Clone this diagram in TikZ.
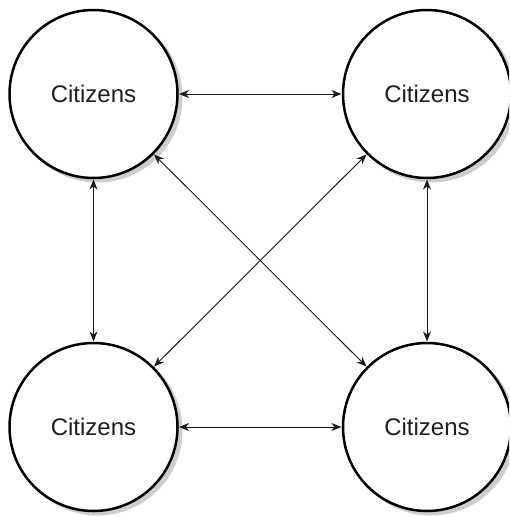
\documentclass[tikz,border=0pt]{standalone}
\usepackage{fontspec}
\setmainfont{Liberation Sans}
\usetikzlibrary{arrows.meta}
\definecolor{shadowgray}{RGB}{205,206,208}
\tikzset{
  citizen/.style={circle, draw=black, line width=2.5pt, fill=white, minimum size=168pt, inner sep=0pt, outer sep=1.6pt, font=\fontsize{24}{28}\selectfont, text=black!88},
  shadowdisk/.style={fill=shadowgray},
  link/.style={line width=0.9pt, {Stealth[length=10pt,width=8pt]}-{Stealth[length=10pt,width=8pt]}, black!90},
}
\begin{document}
\begin{tikzpicture}[x=1pt,y=-1pt]
  \useasboundingbox (0,0) rectangle (509,517);
  \clip (0,0) rectangle (509,517);
  \fill[white] (0,0) rectangle (509,517);
  % shadows
  \foreach \cx/\cy in {93.5/94, 427/94, 93.5/427, 427/427}{
    \fill[shadowdisk] (\cx+4,\cy+3.5) circle (85pt);
  }
  \node[citizen] (tl) at (93.5,94) {Citizens};
  \node[citizen] (tr) at (427,94) {Citizens};
  \node[citizen] (bl) at (93.5,427) {Citizens};
  \node[citizen] (br) at (427,427) {Citizens};
  \draw[link] (tl) -- (tr);
  \draw[link] (bl) -- (br);
  \draw[link] (tl) -- (bl);
  \draw[link] (tr) -- (br);
  \draw[link] (tl) -- (br);
  \draw[link] (tr) -- (bl);
\end{tikzpicture}
\end{document}
